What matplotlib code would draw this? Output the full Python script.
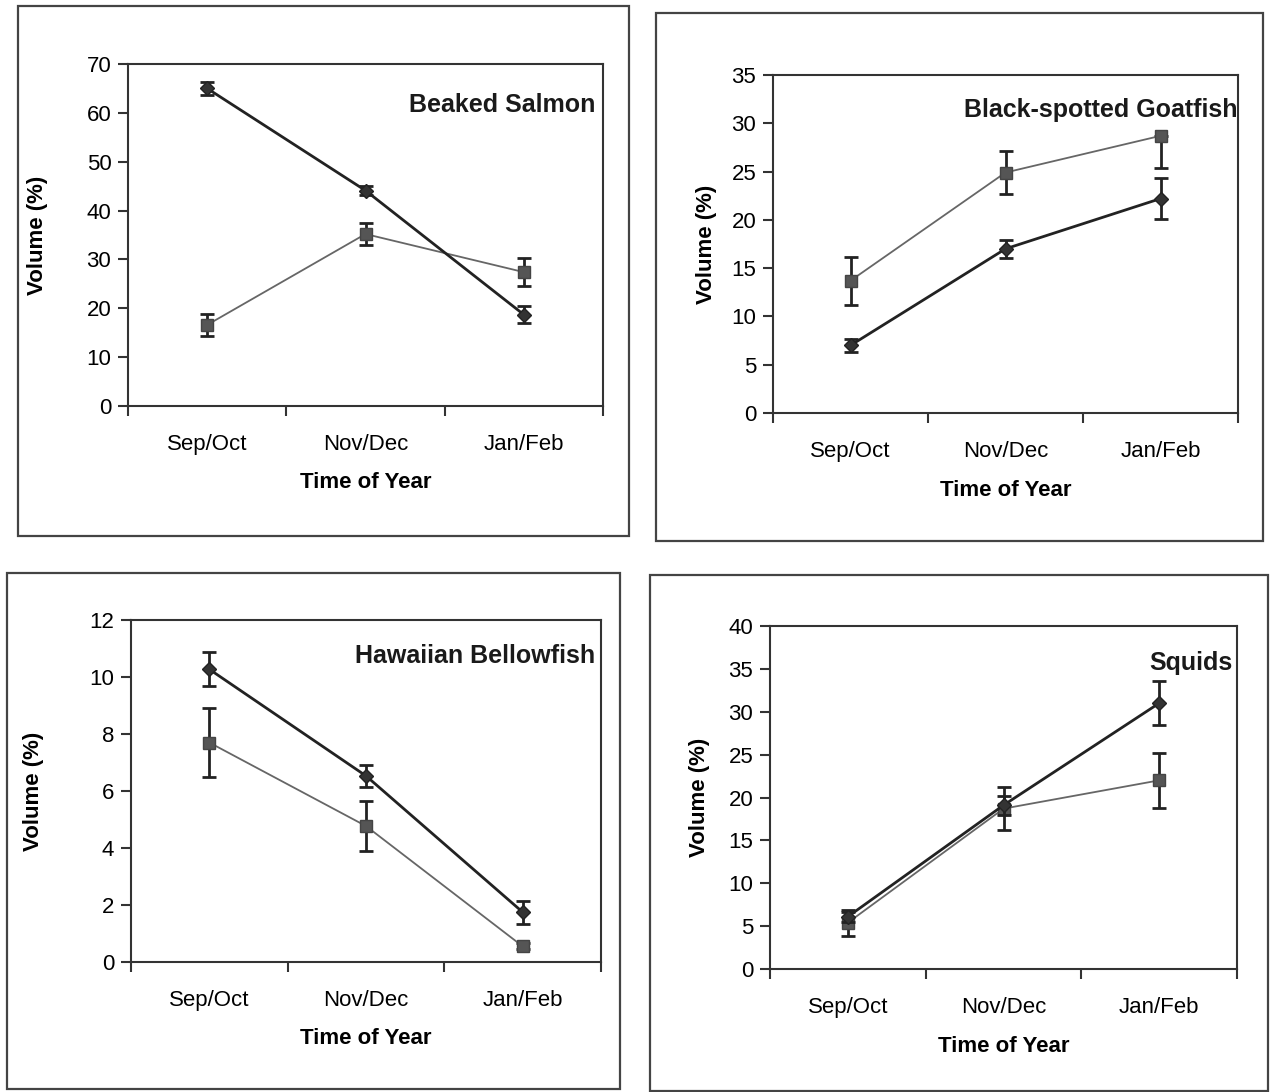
import matplotlib.pyplot as plt
from matplotlib.patches import Rectangle

plt.rcParams['font.family'] = ['Liberation Sans', 'DejaVu Sans']

periods = ["Sep/Oct", "Nov/Dec", "Jan/Feb"]

# Beaked Salmon
salmon_dia = [65.0, 44.1, 18.7]
salmon_dia_err = [1.4, 1.0, 1.7]
salmon_sq = [16.6, 35.2, 27.4]
salmon_sq_err = [2.3, 2.3, 2.8]

# Black-spotted Goatfish
goat_dia = [7.0, 17.0, 22.2]
goat_dia_err = [0.7, 0.9, 2.1]
goat_sq = [13.7, 24.9, 28.7]
goat_sq_err_lo = [2.5, 2.2, 3.3]
goat_sq_err_hi = [2.5, 2.2, 0.0]

# Hawaiian Bellowfish
bellow_dia = [10.27, 6.53, 1.75]
bellow_dia_err = [0.6, 0.38, 0.4]
bellow_sq = [7.7, 4.77, 0.55]
bellow_sq_err = [1.2, 0.88, 0.1]

# Squids
squid_dia = [6.1, 19.1, 31.0]
squid_dia_err = [0.6, 1.1, 2.6]
squid_sq = [5.4, 18.7, 22.0]
squid_sq_err = [1.5, 2.5, 3.2]

W, H = 1274, 1092
fig = plt.figure(figsize=(W / 100, H / 100), dpi=100)

def px_axes(l, t, r, b):
    return fig.add_axes([l / W, 1 - b / H, (r - l) / W, (b - t) / H])

def frame(l, t, r, b):
    fig.patches.append(Rectangle((l / W, 1 - b / H), (r - l) / W, (b - t) / H,
                                 transform=fig.transFigure, fill=False,
                                 edgecolor='#444444', lw=1.6))

def panel(ax, title, dia, dia_err, sq, sq_err, ymax, ystep, tx, ty, ylx):
    x = [0.5, 1.5, 2.5]
    ax.errorbar(x, sq, yerr=sq_err, color='#666666', lw=1.3, marker='s', ms=8,
                mfc='#555555', mec='#444444', ecolor='#222222', elinewidth=2,
                capsize=5, capthick=2, zorder=3)
    ax.errorbar(x, dia, yerr=dia_err, color='#222222', lw=2, marker='D', ms=7,
                mfc='#333333', mec='#222222', ecolor='#222222', elinewidth=2,
                capsize=5, capthick=2, zorder=4)
    ax.set_xlim(0, 3)
    ax.set_ylim(0, ymax)
    ax.set_yticks(range(0, ymax + 1, ystep))
    ax.set_xticks([0, 1, 2, 3])
    ax.set_xticklabels([])
    ax.set_xticks(x, minor=True)
    ax.set_xticklabels(periods, minor=True)
    ax.tick_params(axis='x', which='minor', length=0, pad=20, labelsize=16)
    ax.tick_params(axis='x', which='major', length=7, width=1.5, color='#333333')
    ax.tick_params(axis='y', length=7, width=1.5, color='#333333', pad=5, labelsize=16)
    for s in ax.spines.values():
        s.set_color('#333333')
        s.set_linewidth(1.5)
    ax.set_xlabel("Time of Year", fontsize=16, fontweight='bold')
    ax.xaxis.label.set_va('center')
    h = ax.get_position().height * H
    ax.xaxis.set_label_coords(0.5, -77 / h)
    ax.set_ylabel("Volume (%)", fontsize=16, fontweight='bold')
    ax.yaxis.label.set_va('center')
    ax.yaxis.set_label_coords(ylx, 0.5)
    ax.text(tx, ty, title, transform=ax.transAxes, ha='right', va='center',
            fontsize=18, fontweight='bold', color='#1a1a1a')

frame(18, 6, 629, 536)
frame(656, 13, 1263, 541)
frame(7, 573, 620, 1089)
frame(650, 575, 1268, 1091)

ax1 = px_axes(128, 64, 603, 406)
panel(ax1, "Beaked Salmon", salmon_dia, salmon_dia_err, salmon_sq, salmon_sq_err,
      70, 10, 0.983, 0.88, -0.19)

ax2 = px_axes(773, 75, 1238, 413)
panel(ax2, "Black-spotted Goatfish", goat_dia, goat_dia_err, goat_sq,
      [goat_sq_err_lo, goat_sq_err_hi], 35, 5, 0.998, 0.896, -0.142)

ax3 = px_axes(131, 620, 601, 962)
panel(ax3, "Hawaiian Bellowfish", bellow_dia, bellow_dia_err, bellow_sq, bellow_sq_err,
      12, 2, 0.987, 0.895, -0.208)

ax4 = px_axes(770, 626, 1237, 969)
panel(ax4, "Squids", squid_dia, squid_dia_err, squid_sq, squid_sq_err,
      40, 5, 0.99, 0.892, -0.15)

fig.savefig("out.png", dpi=100)
